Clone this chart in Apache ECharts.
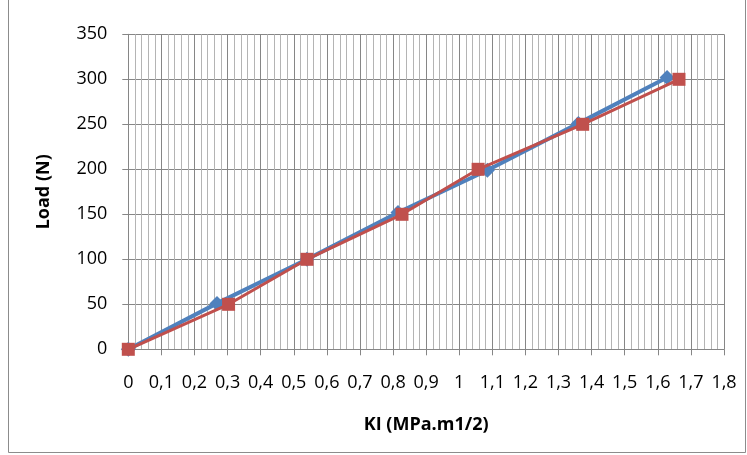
<!DOCTYPE html>
<html>
<head>
<meta charset="utf-8">
<script src="https://cdn.jsdelivr.net/npm/echarts@6/dist/echarts.min.js"></script>
<style>
  html, body { margin: 0; padding: 0; background: #fff; }
  #chart { width: 747px; height: 455px; }
</style>
</head>
<body>
<div id="chart"></div>
<script>
// Stress intensity factor KI versus applied load, two measurement runs
const kiRun1 = [0, 0.268, 0.54, 0.815, 1.085, 1.36, 1.628];
const loadRun1 = [0, 51, 100, 152, 199, 251, 302];
const kiRun2 = [0, 0.303, 0.54, 0.827, 1.057, 1.373, 1.664];
const loadRun2 = [0, 50, 100, 150, 200, 250, 300];

const xTitle = 'KI (MPa.m1/2)';
const yTitle = 'Load (N)';

const pairs = (xs, ys) => xs.map((x, i) => [x, ys[i]]);
const decimalComma = v => String(Number(v.toFixed(1))).replace('.', ',');

const font = '"Open Sans", sans-serif';
const majorGrid = '#868686';
const minorGrid = '#b4b4b4';

const chart = echarts.init(document.getElementById('chart'), null, { renderer: 'canvas' });
chart.setOption({
  animation: false,
  backgroundColor: '#ffffff',
  graphic: [{
    type: 'rect',
    shape: { x: 8.5, y: -5, width: 737, height: 457.5 },
    style: { fill: 'none', stroke: '#8c8c8c', lineWidth: 1 },
    silent: true
  }],
  grid: { left: 128.3, right: 23, top: 34.3, bottom: 105.7, containLabel: false },
  xAxis: {
    type: 'value',
    min: 0, max: 1.8, interval: 0.1,
    name: xTitle,
    nameLocation: 'middle',
    nameGap: 67,
    nameTextStyle: { fontFamily: font, fontSize: 18, fontWeight: 'bold', color: '#000' },
    axisLine: { show: true, onZero: false, lineStyle: { color: majorGrid, width: 1 } },
    axisTick: { show: true, inside: false, length: 6, lineStyle: { color: majorGrid } },
    axisLabel: { fontFamily: font, fontSize: 18, color: '#000', margin: 25, formatter: decimalComma },
    splitLine: { show: true, lineStyle: { color: majorGrid, width: 1 } },
    minorTick: { show: false, splitNumber: 5 },
    minorSplitLine: { show: true, lineStyle: { color: minorGrid, width: 1 } }
  },
  yAxis: {
    type: 'value',
    min: 0, max: 350, interval: 50,
    name: yTitle,
    nameLocation: 'middle',
    nameGap: 75,
    nameRotate: 90,
    nameTextStyle: { fontFamily: font, fontSize: 18, fontWeight: 'bold', color: '#000' },
    axisLine: { show: true, lineStyle: { color: majorGrid, width: 1 } },
    axisTick: { show: true, inside: false, length: 6, lineStyle: { color: majorGrid } },
    axisLabel: { fontFamily: font, fontSize: 18, color: '#000', margin: 21 },
    splitLine: { show: true, lineStyle: { color: majorGrid, width: 1 } }
  },
  series: [
    {
      name: 'Run 1',
      type: 'line',
      data: pairs(kiRun1, loadRun1),
      symbol: 'diamond',
      symbolSize: 15,
      lineStyle: { color: '#4f81bd', width: 4 },
      itemStyle: { color: '#4f81bd' },
      z: 2
    },
    {
      name: 'Run 2',
      type: 'line',
      data: pairs(kiRun2, loadRun2),
      symbol: 'rect',
      symbolSize: 13,
      lineStyle: { color: '#c0504d', width: 3 },
      itemStyle: { color: '#c0504d' },
      z: 3
    }
  ]
});
</script>
</body>
</html>
